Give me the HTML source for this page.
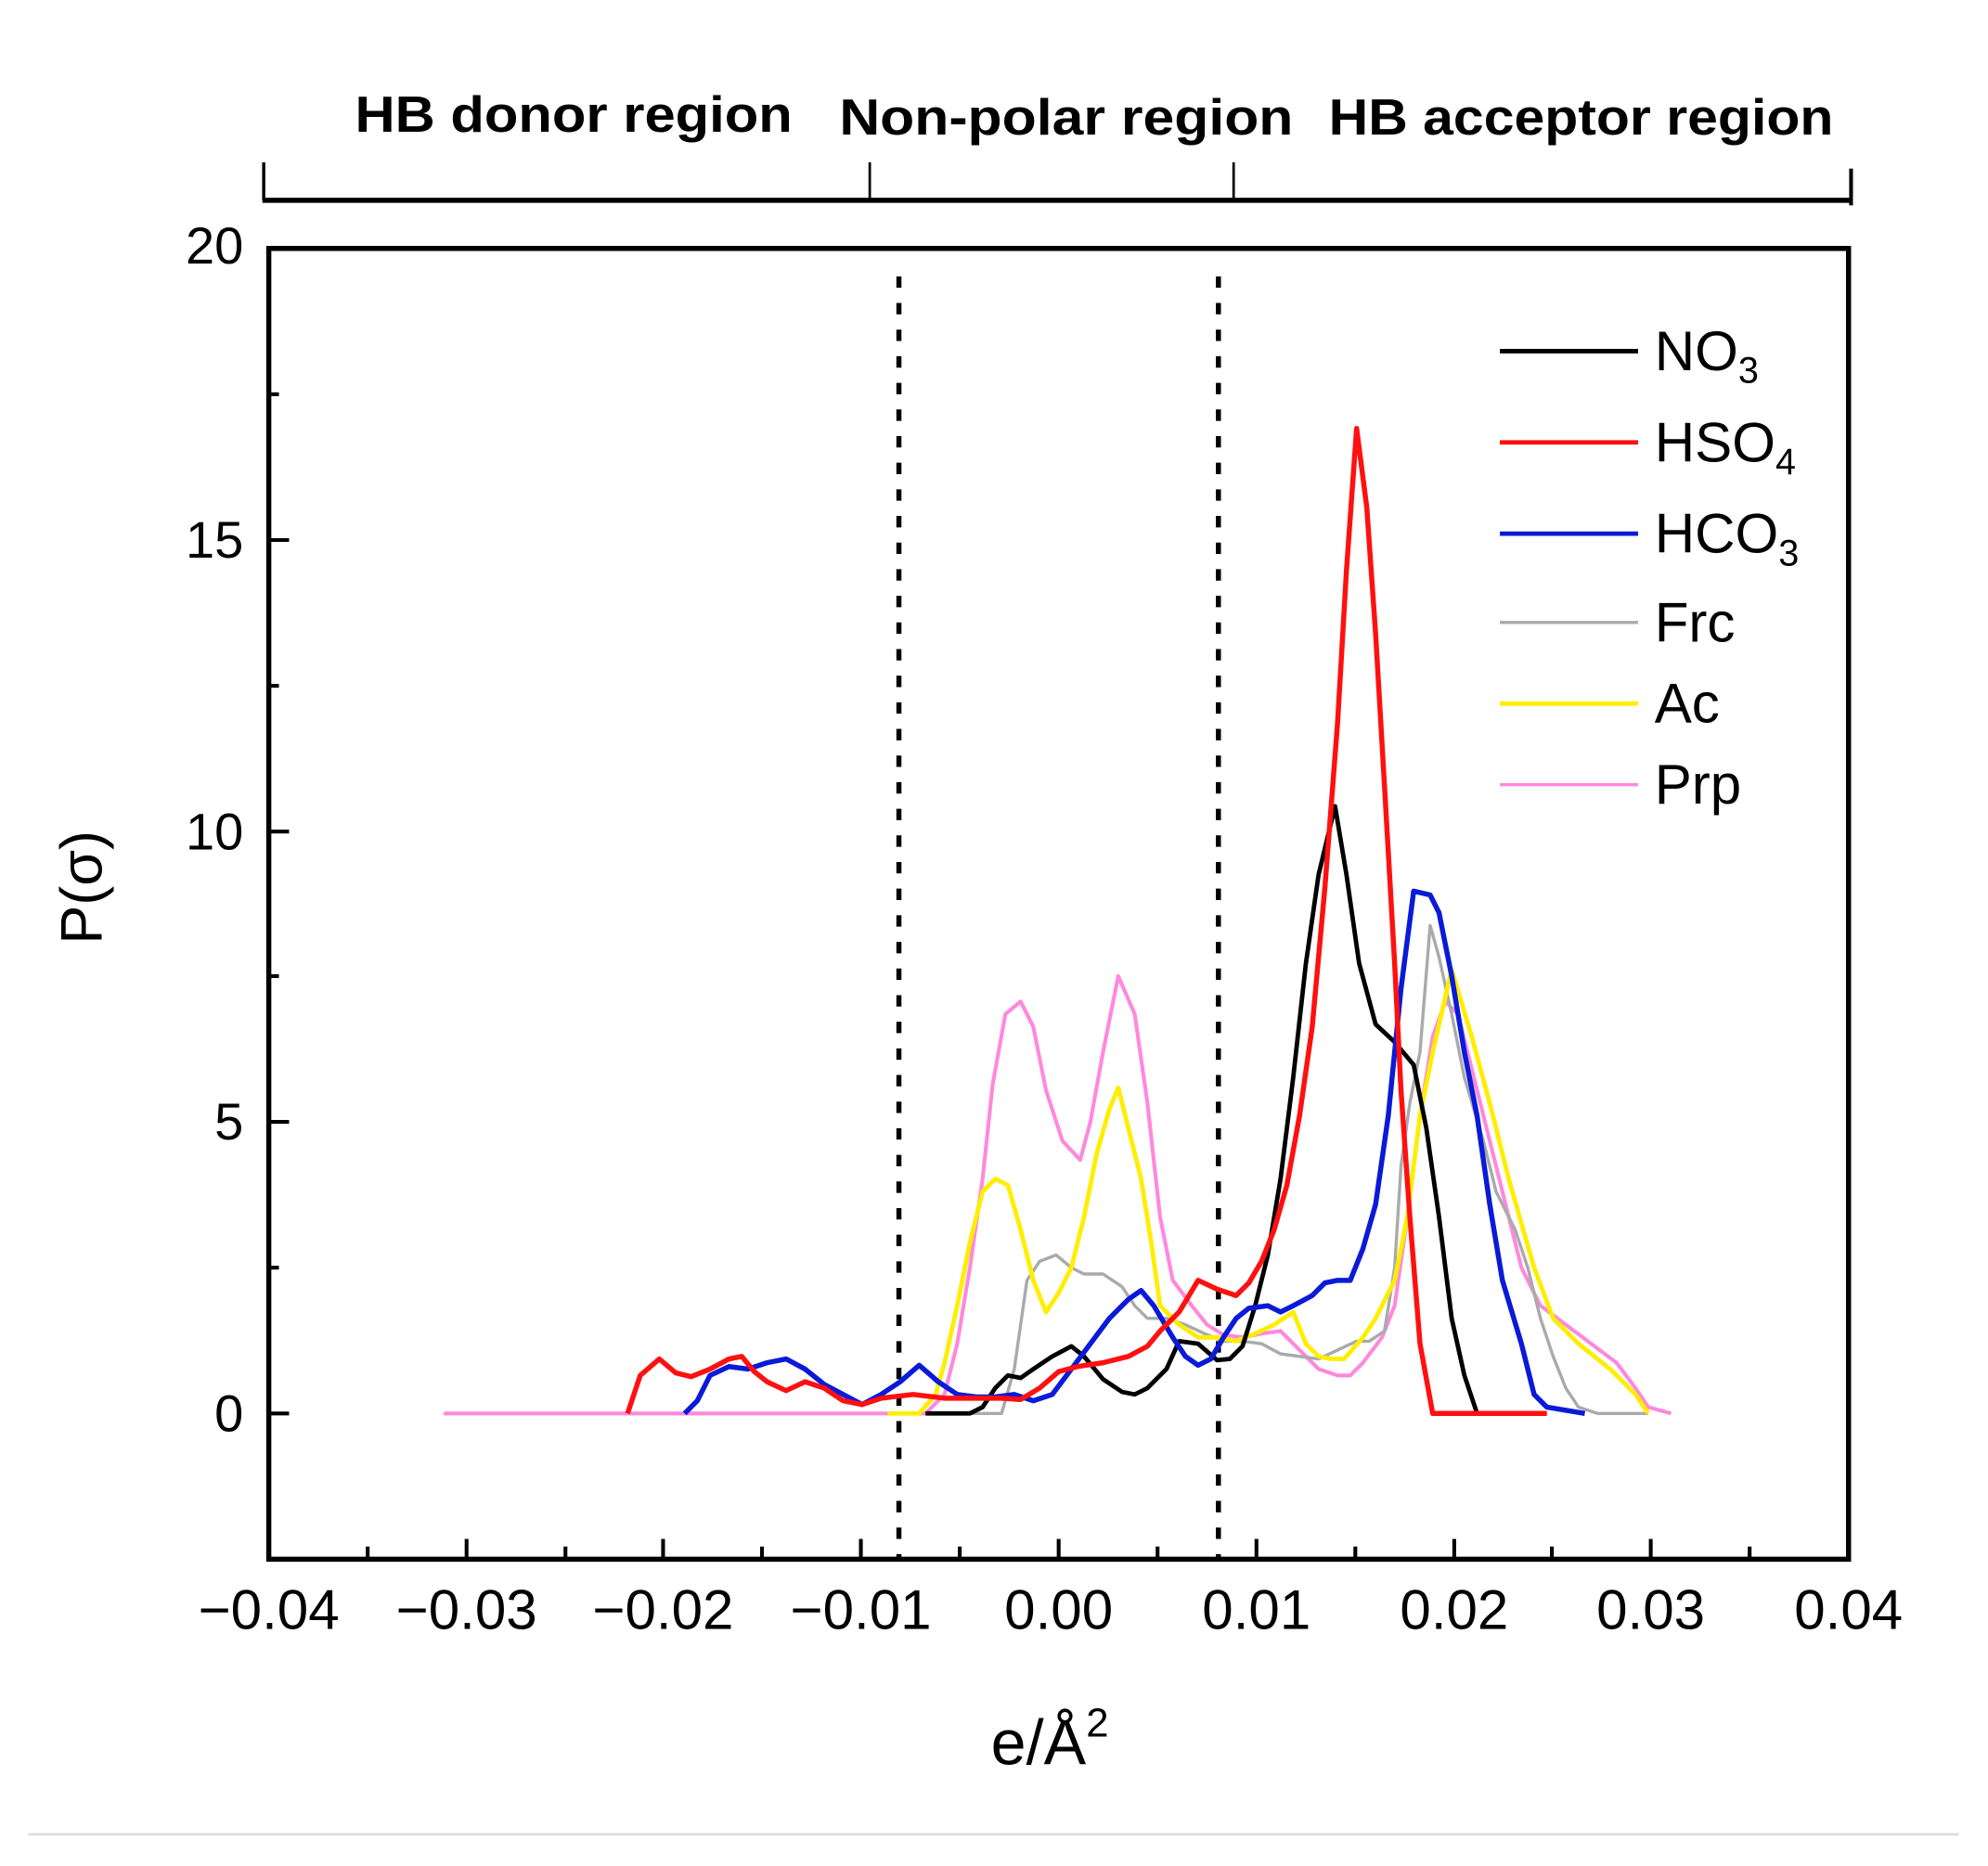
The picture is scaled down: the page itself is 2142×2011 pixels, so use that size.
<!DOCTYPE html>
<html><head><meta charset="utf-8"><style>
html,body{margin:0;padding:0;background:#fff;}
svg{display:block;}
text{font-family:"Liberation Sans",sans-serif;fill:#000;}
</style></head><body>
<svg width="2142" height="2011" viewBox="0 0 1568 1472" preserveAspectRatio="none" xmlns="http://www.w3.org/2000/svg">
<rect width="1568" height="1472" fill="#fff"/>
<line x1="22" y1="1447" x2="1545" y2="1447" stroke="#ddd" stroke-width="2"/>
<g stroke="#000" fill="none">
<line x1="207" y1="158" x2="1461" y2="158" stroke-width="4"/>
<line x1="208" y1="128" x2="208" y2="158" stroke-width="2.5"/>
<line x1="686" y1="128" x2="686" y2="158" stroke-width="2"/>
<line x1="973" y1="128" x2="973" y2="158" stroke-width="2"/>
<line x1="1460" y1="133" x2="1460" y2="162" stroke-width="3"/>
</g>
<g font-weight="bold" font-size="40">
<text x="280" y="104" textLength="345" lengthAdjust="spacingAndGlyphs">HB donor region</text>
<text x="662" y="106" textLength="358" lengthAdjust="spacingAndGlyphs">Non-polar region</text>
<text x="1048" y="106" textLength="398" lengthAdjust="spacingAndGlyphs">HB acceptor region</text>
</g>
<rect x="212" y="196" width="1246" height="1034" fill="none" stroke="#000" stroke-width="4"/>
<g stroke="#000" stroke-width="4" stroke-dasharray="9,12">
<line x1="709" y1="218" x2="709" y2="1230"/>
<line x1="961" y1="218" x2="961" y2="1230"/>
</g>
<g stroke="#000" stroke-width="3">
<line x1="212" y1="1115" x2="228" y2="1115"/>
<line x1="212" y1="885" x2="228" y2="885"/>
<line x1="212" y1="656" x2="228" y2="656"/>
<line x1="212" y1="426" x2="228" y2="426"/>
<line x1="212" y1="1000" x2="220" y2="1000"/>
<line x1="212" y1="770" x2="220" y2="770"/>
<line x1="212" y1="541" x2="220" y2="541"/>
<line x1="212" y1="311" x2="220" y2="311"/>
</g>
<g stroke="#000" stroke-width="3">
<line x1="368" y1="1230" x2="368" y2="1214"/>
<line x1="523" y1="1230" x2="523" y2="1214"/>
<line x1="679" y1="1230" x2="679" y2="1214"/>
<line x1="835" y1="1230" x2="835" y2="1214"/>
<line x1="991" y1="1230" x2="991" y2="1214"/>
<line x1="1147" y1="1230" x2="1147" y2="1214"/>
<line x1="1302" y1="1230" x2="1302" y2="1214"/>
<line x1="290" y1="1230" x2="290" y2="1220"/>
<line x1="446" y1="1230" x2="446" y2="1220"/>
<line x1="601" y1="1230" x2="601" y2="1220"/>
<line x1="757" y1="1230" x2="757" y2="1220"/>
<line x1="913" y1="1230" x2="913" y2="1220"/>
<line x1="1069" y1="1230" x2="1069" y2="1220"/>
<line x1="1224" y1="1230" x2="1224" y2="1220"/>
<line x1="1380" y1="1230" x2="1380" y2="1220"/>
</g>
<g font-size="41" text-anchor="end">
<text x="192" y="1129">0</text>
<text x="192" y="899">5</text>
<text x="192" y="670">10</text>
<text x="192" y="440">15</text>
<text x="192" y="208">20</text>
</g>
<g font-size="44" text-anchor="middle">
<text x="212" y="1285">−0.04</text>
<text x="368" y="1285">−0.03</text>
<text x="523" y="1285">−0.02</text>
<text x="679" y="1285">−0.01</text>
<text x="835" y="1285">0.00</text>
<text x="991" y="1285">0.01</text>
<text x="1147" y="1285">0.02</text>
<text x="1302" y="1285">0.03</text>
<text x="1458" y="1285">0.04</text>
</g>
<text x="828" y="1392" font-size="50" text-anchor="middle">e/Å<tspan font-size="32" dy="-22">2</tspan></text>
<text transform="translate(80,700) rotate(-90)" font-size="46" text-anchor="middle">P(σ)</text>
<g fill="none" stroke-linejoin="round">
<polyline stroke="#ff88dd" stroke-width="3" points="350,1115 730,1115 745,1100 755,1060 765,1000 775,930 783,855 793,800 805,790 815,810 825,860 838,900 852,915 860,885 870,830 882,770 895,800 905,870 915,960 925,1010 940,1030 952,1045 965,1053 980,1055 995,1052 1010,1050 1025,1065 1040,1080 1055,1085 1065,1085 1075,1075 1090,1055 1100,1030 1110,960 1120,880 1130,818 1140,790 1150,800 1160,840 1170,880 1185,940 1200,1000 1215,1030 1235,1045 1255,1060 1275,1075 1290,1095 1300,1110 1318,1115"/>
<polyline stroke="#aaaaaa" stroke-width="2.5" points="760,1115 790,1115 800,1080 810,1010 820,995 833,990 845,1000 855,1005 870,1005 885,1015 895,1030 905,1040 920,1040 935,1045 950,1052 965,1058 980,1058 995,1060 1010,1068 1025,1070 1040,1072 1055,1065 1070,1058 1080,1058 1092,1050 1100,1000 1105,920 1112,870 1120,830 1128,730 1135,755 1145,800 1155,850 1170,900 1180,940 1195,970 1205,1000 1215,1040 1225,1070 1235,1095 1245,1110 1260,1115 1300,1115"/>
<polyline stroke="#ffee00" stroke-width="3.5" points="700,1115 725,1115 738,1100 745,1075 755,1030 765,980 775,940 785,930 795,935 805,970 815,1010 825,1035 835,1020 845,1000 855,960 865,910 875,875 882,858 890,890 900,930 908,980 915,1030 930,1045 945,1055 960,1055 975,1058 990,1052 1005,1045 1020,1035 1030,1060 1040,1070 1050,1072 1060,1072 1075,1055 1085,1040 1100,1010 1110,960 1120,880 1130,830 1145,765 1160,815 1175,870 1190,930 1210,1000 1225,1040 1245,1060 1270,1080 1290,1100 1300,1115"/>
<polyline stroke="#000" stroke-width="3.5" points="730,1115 765,1115 775,1110 785,1095 795,1085 805,1087 815,1080 830,1070 845,1062 855,1070 870,1088 885,1098 895,1100 905,1095 920,1080 930,1058 945,1060 960,1073 970,1072 980,1062 990,1030 1000,990 1010,930 1020,850 1030,760 1040,690 1053,636 1062,690 1072,760 1085,808 1100,822 1115,840 1125,890 1135,960 1145,1040 1155,1085 1165,1115 1220,1115"/>
<polyline stroke="#0a1ad8" stroke-width="4" points="540,1115 550,1105 560,1085 575,1078 590,1080 605,1075 620,1072 635,1080 650,1092 665,1100 680,1108 695,1100 710,1090 725,1077 740,1090 755,1100 770,1102 785,1102 800,1100 815,1105 830,1100 845,1080 860,1060 875,1040 890,1025 900,1018 910,1030 925,1055 935,1070 945,1077 955,1072 965,1055 975,1040 985,1032 1000,1030 1010,1035 1020,1030 1035,1022 1045,1012 1055,1010 1065,1010 1075,985 1085,950 1095,880 1105,780 1115,703 1128,706 1135,720 1145,770 1155,830 1165,880 1175,950 1185,1010 1200,1060 1210,1100 1220,1110 1250,1115"/>
<polyline stroke="#ff1010" stroke-width="4" points="495,1115 505,1085 520,1072 533,1083 545,1086 560,1080 575,1072 585,1070 595,1082 605,1090 620,1097 635,1090 650,1095 665,1105 680,1108 695,1103 720,1100 745,1103 765,1103 790,1103 805,1104 820,1095 835,1082 850,1078 870,1075 890,1070 905,1062 915,1050 930,1035 945,1010 960,1017 975,1022 985,1012 995,995 1005,970 1015,935 1025,880 1035,810 1045,700 1055,570 1062,450 1070,338 1078,400 1085,500 1092,620 1100,760 1105,860 1112,960 1120,1060 1130,1115 1220,1115"/>
</g>
<g stroke-width="3.5">
<line x1="1183" y1="277" x2="1292" y2="277" stroke="#000"/>
<line x1="1183" y1="349" x2="1292" y2="349" stroke="#ff1010"/>
<line x1="1183" y1="421" x2="1292" y2="421" stroke="#0a1ad8"/>
<line x1="1183" y1="491" x2="1292" y2="491" stroke="#aaaaaa" stroke-width="2.5"/>
<line x1="1183" y1="555" x2="1292" y2="555" stroke="#ffee00"/>
<line x1="1183" y1="619" x2="1292" y2="619" stroke="#ff88dd" stroke-width="2.5"/>
</g>
<g font-size="44">
<text x="1305" y="292">NO<tspan font-size="29" dy="10">3</tspan></text>
<text x="1305" y="364">HSO<tspan font-size="29" dy="10">4</tspan></text>
<text x="1305" y="436">HCO<tspan font-size="29" dy="10">3</tspan></text>
<text x="1305" y="506">Frc</text>
<text x="1305" y="570">Ac</text>
<text x="1305" y="634">Prp</text>
</g>
</svg>
</body></html>
